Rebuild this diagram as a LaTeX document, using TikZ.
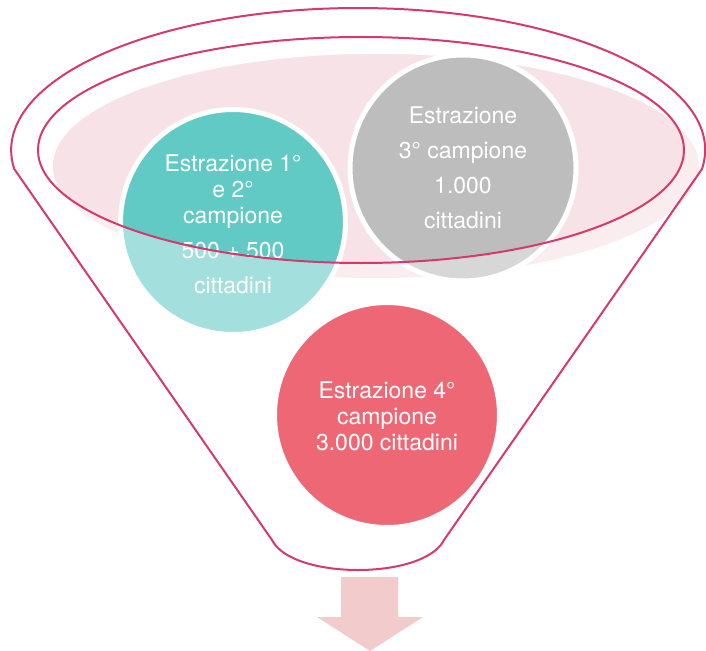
\documentclass[tikz,border=0pt]{standalone}
\usepackage{fontspec}
\setmainfont{TeX Gyre Heros}
\definecolor{funnel}{RGB}{214,57,111}
\definecolor{pinkin}{RGB}{246,226,231}
\definecolor{pinkout}{RGB}{250,237,240}
\definecolor{tealin}{RGB}{98,202,196}
\definecolor{tealout}{RGB}{163,223,220}
\definecolor{grayin}{RGB}{189,189,189}
\definecolor{grayout}{RGB}{215,215,215}
\definecolor{redc}{RGB}{237,103,117}
\definecolor{arrowc}{RGB}{242,203,204}
\begin{document}
\begin{tikzpicture}[x=1pt,y=-1pt,
  ring/.style={draw=white, line width=5pt},
  txt/.style={text=white, align=center, font=\fontsize{23}{26}\selectfont, inner sep=0pt},
  rim/.style={draw=funnel, line width=2pt, line join=round}]
\useasboundingbox (0,0) rectangle (706,650);
% faded parts (outside the rim)
\fill[pinkout] (376,166) ellipse[x radius=323, y radius=112];
\fill[tealout, ring] (233,222) circle[radius=112.5];
\fill[grayout, ring] (463,168) circle[radius=113];
% full colour parts (inside the rim)
\begin{scope}
  \clip (361,150) ellipse[x radius=323, y radius=113];
  \fill[pinkin] (376,166) ellipse[x radius=323, y radius=112];
  \fill[tealin, ring] (233,222) circle[radius=112.5];
  \fill[grayin, ring] (463,168) circle[radius=113];
\end{scope}
\fill[redc, ring] (387,415) circle[radius=112.5];
% texts
\node[txt] (t1) at (233,224) {Estrazione 1°\\e 2°\\campione\\[9pt]500 + 500\\[9pt]cittadini};
\node[txt, font=\fontsize{23}{35}\selectfont] (t2) at (463,168) {Estrazione\\3° campione\\1.000\\cittadini};
\node[txt] (t3) at (387,416) {Estrazione 4°\\campione\\3.000 cittadini};
% funnel
\draw[rim] (361,150) ellipse[x radius=323, y radius=113];
\draw[rim] (702,169) arc[start angle=7.69, end angle=-187.69, x radius=347, y radius=142]
  -- (272,540) .. controls (282,560) and (320,570) .. (358,570)
  .. controls (396,570) and (434,560) .. (444,540) -- cycle;
% arrow
\fill[arrowc] (341,577) -- (398,577) -- (398,617) -- (423,617) -- (370,651)
  -- (317,617) -- (341,617) -- cycle;
\end{tikzpicture}
\end{document}
